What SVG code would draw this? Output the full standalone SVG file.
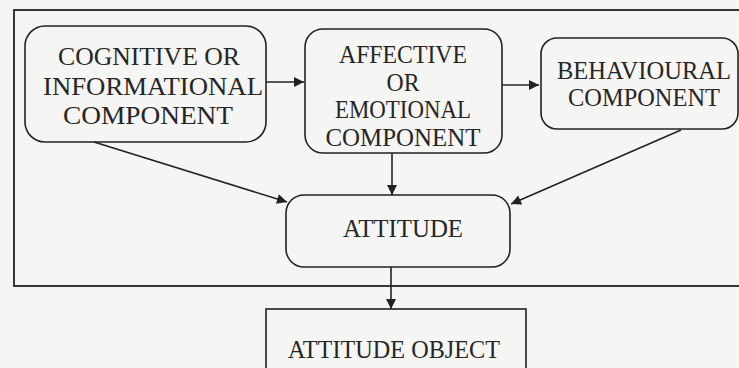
<svg xmlns="http://www.w3.org/2000/svg" width="739" height="368" viewBox="0 0 739 368">
<style>
.box{fill:none;stroke:#222;stroke-width:1.6}
.frame{fill:none;stroke:#222;stroke-width:1.8}
.lbl{font-family:"Liberation Serif","Times New Roman",serif;font-size:25px;fill:#262626;text-anchor:middle}
.edge{stroke:#222;stroke-width:1.6;fill:none;marker-end:url(#ah)}
</style>
<defs>
<marker id="ah" viewBox="0 0 10 10" refX="10" refY="5" markerUnits="userSpaceOnUse" markerWidth="12" markerHeight="10" orient="auto">
<path d="M0,0 L10,5 L0,10 Z" fill="#222"/>
</marker>
</defs>
<rect x="0" y="0" width="739" height="368" fill="#f5f5f3"/>
<rect class="frame" x="14" y="10" width="730" height="276"/>
<g id="connectors">
<line class="edge" x1="266" y1="82" x2="304" y2="82"/>
<line class="edge" x1="502" y1="85" x2="539" y2="85"/>
<line class="edge" x1="94" y1="142" x2="287" y2="202"/>
<line class="edge" x1="392" y1="153" x2="392" y2="195"/>
<line class="edge" x1="681" y1="130" x2="511" y2="204"/>
<line class="edge" x1="391" y1="267" x2="391" y2="309"/>
</g>
<g id="cognitive">
<rect class="box" x="25" y="26" width="241" height="116" rx="20"/>
<text class="lbl" x="149" y="65" textLength="182" lengthAdjust="spacingAndGlyphs">COGNITIVE OR</text>
<text class="lbl" x="153" y="95" textLength="220" lengthAdjust="spacingAndGlyphs">INFORMATIONAL</text>
<text class="lbl" x="148" y="124" textLength="170" lengthAdjust="spacingAndGlyphs">COMPONENT</text>
</g>
<g id="affective">
<rect class="box" x="305" y="29" width="197" height="124" rx="18"/>
<text class="lbl" x="403" y="63" textLength="128" lengthAdjust="spacingAndGlyphs">AFFECTIVE</text>
<text class="lbl" x="403" y="91" textLength="33" lengthAdjust="spacingAndGlyphs">OR</text>
<text class="lbl" x="403" y="118" textLength="136" lengthAdjust="spacingAndGlyphs">EMOTIONAL</text>
<text class="lbl" x="403" y="146" textLength="155" lengthAdjust="spacingAndGlyphs">COMPONENT</text>
</g>
<g id="behavioural">
<rect class="box" x="541" y="38" width="197" height="91" rx="16"/>
<text class="lbl" x="644" y="79" textLength="174" lengthAdjust="spacingAndGlyphs">BEHAVIOURAL</text>
<text class="lbl" x="644" y="106" textLength="152" lengthAdjust="spacingAndGlyphs">COMPONENT</text>
</g>
<g id="attitude">
<rect class="box" x="286" y="195" width="224" height="72" rx="18"/>
<text class="lbl" x="403" y="237" textLength="120" lengthAdjust="spacingAndGlyphs">ATTITUDE</text>
</g>
<g id="attitude-object">
<rect class="box" x="266" y="309" width="260" height="70"/>
<text class="lbl" x="394" y="358" textLength="212" lengthAdjust="spacingAndGlyphs">ATTITUDE OBJECT</text>
</g>
</svg>
